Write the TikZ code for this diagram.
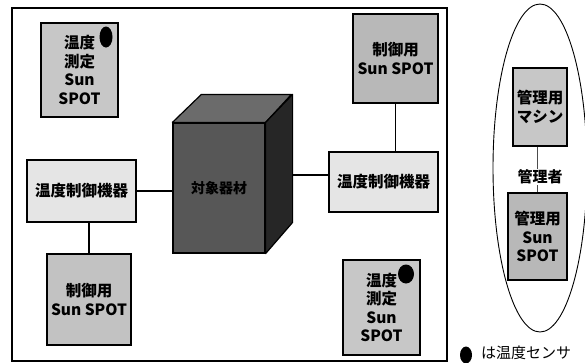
\documentclass[tikz,border=0pt]{standalone}
\usepackage{fontspec}
\setmainfont{Noto Sans CJK JP}
\usetikzlibrary{shapes.geometric}
\begin{document}
\begin{tikzpicture}[x=1pt,y=-1pt,
  box/.style={draw=black, line width=1.3pt, inner sep=0pt, align=center,
    font=\fontsize{15.5}{18.5}\selectfont\bfseries, text=black},
  sensorbox/.style={box, fill=black!22},
  spotbox/.style={box, fill=black!24},
  ctrlbox/.style={box, fill=black!10},
  dot/.style={ellipse, fill=black, inner sep=0pt},
  link/.style={draw=black, line width=1.3pt},
  thinlink/.style={draw=black!70, line width=0.8pt}]
\useasboundingbox (0,0) rectangle (585,362);
% outer frame
\draw[line width=1.8pt] (12,8) rectangle (447,361);
% right ellipse
\draw[line width=0.9pt] (540,168) ellipse [x radius=47, y radius=164];
% cube
\node[draw=black, line width=1.2pt, fill=black!66, minimum width=92pt, minimum height=130pt,
  inner sep=0pt, font=\fontsize{14}{16}\selectfont\bfseries, text=black] (cube) at (219,188) {対象器材};
\fill[black!58, draw=black, line width=1.2pt, line join=round]
  (cube.north west) -- ++(29,-28) -- ++(90,0) -- (cube.north east) -- cycle;
\fill[black!85, draw=black, line width=1.2pt, line join=round]
  (cube.north east) -- ++(27,-28) -- ++(0,128) -- (cube.south east) -- cycle;
\coordinate (cubeR) at (292,175);
% boxes
\node[sensorbox, minimum width=77pt, minimum height=94pt] (s1) at (79.5,70) {温度\\測定\\Sun\\SPOT};
\node[ctrlbox, minimum width=109pt, minimum height=62pt] (ctrlL) at (81.5,191) {温度制御機器};
\node[spotbox, minimum width=84pt, minimum height=91pt] (spotBL) at (89,299.5) {制御用\\Sun SPOT};
\node[ctrlbox, minimum width=109pt, minimum height=60pt] (ctrlR) at (383.5,182) {温度制御機器};
\node[spotbox, fill=black!28, minimum width=85pt, minimum height=89pt] (spotTR) at (395.5,58.5) {制御用\\Sun SPOT};
\node[sensorbox, minimum width=77pt, minimum height=95pt] (s2) at (381.5,307.5) {温度\\測定\\Sun\\SPOT};
\node[sensorbox, minimum width=54pt, minimum height=78pt] (mach) at (540,107) {管理用\\マシン};
\node[spotbox, fill=black!28, minimum width=59pt, minimum height=87pt] (mspot) at (537.5,236.5) {管理用\\Sun\\SPOT};
\node[fill=white, inner sep=1pt, font=\fontsize{15}{16}\selectfont\bfseries, text=black] (mgr) at (540,177) {管理者};
% sensor dots
\node[dot, minimum width=13pt, minimum height=21pt] (d1) at (106,37) {};
\node[dot, minimum width=16pt, minimum height=19pt] (d2) at (406,274) {};
\node[dot, minimum width=12pt, minimum height=17pt] (d3) at (466,355) {};
\node[anchor=west, inner sep=0pt, font=\fontsize{15}{16}\selectfont] (leg) at (481,353) {は温度センサ};
% connectors
\draw[link] (ctrlL.east) -- (ctrlL.east -| cube.west);
\draw[link] (spotBL.north) -- (spotBL.north |- ctrlL.south);
\draw[link] ([yshift=7pt]ctrlR.west) -- (cubeR);
\draw[link] (spotTR.south) -- (spotTR.south |- ctrlR.north);
\draw[thinlink] (mach.south -| 537,0) -- (mgr.north -| 537,0);
\draw[thinlink] (mgr.south -| 537,0) -- (mspot.north -| 537,0);
\end{tikzpicture}
\end{document}
